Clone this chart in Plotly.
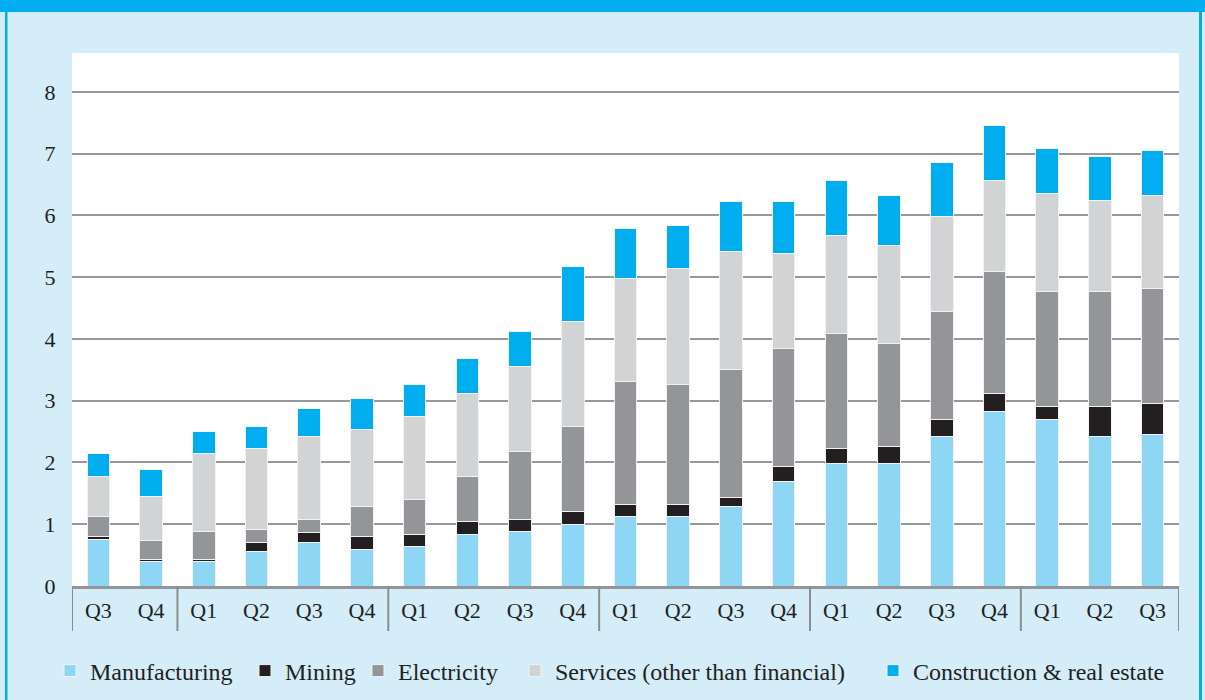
import plotly.graph_objects as go

# Quarter labels along the x axis (grouped by year)
quarters = ["Q3", "Q4",
            "Q1", "Q2", "Q3", "Q4",
            "Q1", "Q2", "Q3", "Q4",
            "Q1", "Q2", "Q3", "Q4",
            "Q1", "Q2", "Q3", "Q4",
            "Q1", "Q2", "Q3"]
year_group_sizes = [2, 4, 4, 4, 4, 3]

# Stacked components per quarter
manufacturing = [0.76, 0.39, 0.39, 0.56, 0.71, 0.59, 0.64, 0.84, 0.88, 1.00, 1.12,
                 1.12, 1.28, 1.69, 1.98, 1.98, 2.42, 2.83, 2.70, 2.42, 2.46]
mining = [0.04, 0.04, 0.04, 0.15, 0.16, 0.21, 0.19, 0.20, 0.19, 0.20, 0.20,
          0.20, 0.16, 0.24, 0.24, 0.28, 0.28, 0.28, 0.20, 0.48, 0.49]
electricity = [0.32, 0.31, 0.45, 0.20, 0.20, 0.49, 0.57, 0.73, 1.10, 1.38, 1.99,
               1.95, 2.07, 1.91, 1.87, 1.66, 1.75, 1.99, 1.87, 1.87, 1.86]
services = [0.65, 0.71, 1.26, 1.31, 1.35, 1.25, 1.35, 1.34, 1.38, 1.71, 1.67,
            1.87, 1.91, 1.54, 1.59, 1.59, 1.54, 1.46, 1.59, 1.47, 1.51]
construction = [0.37, 0.44, 0.36, 0.37, 0.45, 0.49, 0.52, 0.57, 0.57, 0.89, 0.81,
                0.69, 0.81, 0.85, 0.89, 0.81, 0.86, 0.89, 0.73, 0.72, 0.73]

series = [
    ("Manufacturing", manufacturing, "#8dd7f5"),
    ("Mining", mining, "#231f20"),
    ("Electricity", electricity, "#939598"),
    ("Services (other than financial)", services, "#d1d3d4"),
    ("Construction & real estate", construction, "#00aeef"),
]

x = list(range(len(quarters)))
FONT = "Liberation Serif"
TEXT = "#231f20"
PANEL = "#d5ecf9"
CYAN = "#00aeef"
GRID = "#98999b"

W, H = 1205, 700
pl, pr, pt, pb = 72, 26, 53, 114
pw, ph = W - pl - pr, H - pt - pb


def px_x(v):
    return (v - pl) / pw


def px_y(v):
    return (H - pb - v) / ph


# Left pixel of each legend entry along the bottom row
legend_left_px = [50, 245, 358, 515, 873]

fig = go.Figure()
legend_layouts = {}
for i, (name, vals, color) in enumerate(series):
    key = "legend" if i == 0 else f"legend{i + 1}"
    fig.add_trace(go.Bar(
        x=x, y=vals, name=name, width=0.43, legend=key,
        marker=dict(color=color, line=dict(color="#f2f2f2", width=1)),
    ))
    legend_layouts[key] = dict(
        orientation="h", x=px_x(legend_left_px[i]), xanchor="left",
        y=px_y(671), yanchor="middle",
        font=dict(size=24, family=FONT, color=TEXT), bgcolor="rgba(0,0,0,0)",
    )

# Year-group separator ticks below the axis
bounds = [-0.5]
for n in year_group_sizes:
    bounds.append(bounds[-1] + n)
shapes = []
for b in bounds:
    shapes.append(dict(type="line", xref="x", yref="paper", x0=b, x1=b,
                       y0=0, y1=px_y(631), line=dict(color="#8c8d90", width=2)))

# Cyan header band and side rules of the panel
shapes += [
    dict(type="rect", xref="paper", yref="paper", x0=px_x(0), x1=px_x(W),
         y0=px_y(12), y1=px_y(0), fillcolor=CYAN, line=dict(width=0)),
    dict(type="rect", xref="paper", yref="paper", x0=px_x(5), x1=px_x(7.5),
         y0=px_y(H), y1=px_y(12), fillcolor=CYAN, line=dict(width=0)),
    dict(type="rect", xref="paper", yref="paper", x0=px_x(1199), x1=px_x(1202),
         y0=px_y(H), y1=px_y(12), fillcolor=CYAN, line=dict(width=0)),
]

fig.update_layout(
    width=W, height=H, autosize=False,
    margin=dict(l=pl, r=pr, t=pt, b=pb, autoexpand=False),
    paper_bgcolor=PANEL, plot_bgcolor="white",
    barmode="stack", bargap=0.57,
    font=dict(family=FONT, color=TEXT, size=21),
    showlegend=True,
    xaxis=dict(range=[-0.5, 20.5], tickvals=x, ticktext=quarters, showgrid=False,
               showline=True, linecolor="#939598", linewidth=3, ticks="outside",
               ticklen=3, tickcolor="rgba(0,0,0,0)", tickfont=dict(size=22, family=FONT),
               automargin=False, fixedrange=True),
    yaxis=dict(range=[0, 8.63], tickvals=list(range(9)), showgrid=True, gridcolor=GRID,
               gridwidth=2, zeroline=False, showline=False, ticks="outside", ticklen=11,
               tickcolor="rgba(0,0,0,0)", tickfont=dict(size=22, family=FONT),
               automargin=False, fixedrange=True),
    shapes=shapes,
    **legend_layouts,
)

fig.write_html("out.html")
